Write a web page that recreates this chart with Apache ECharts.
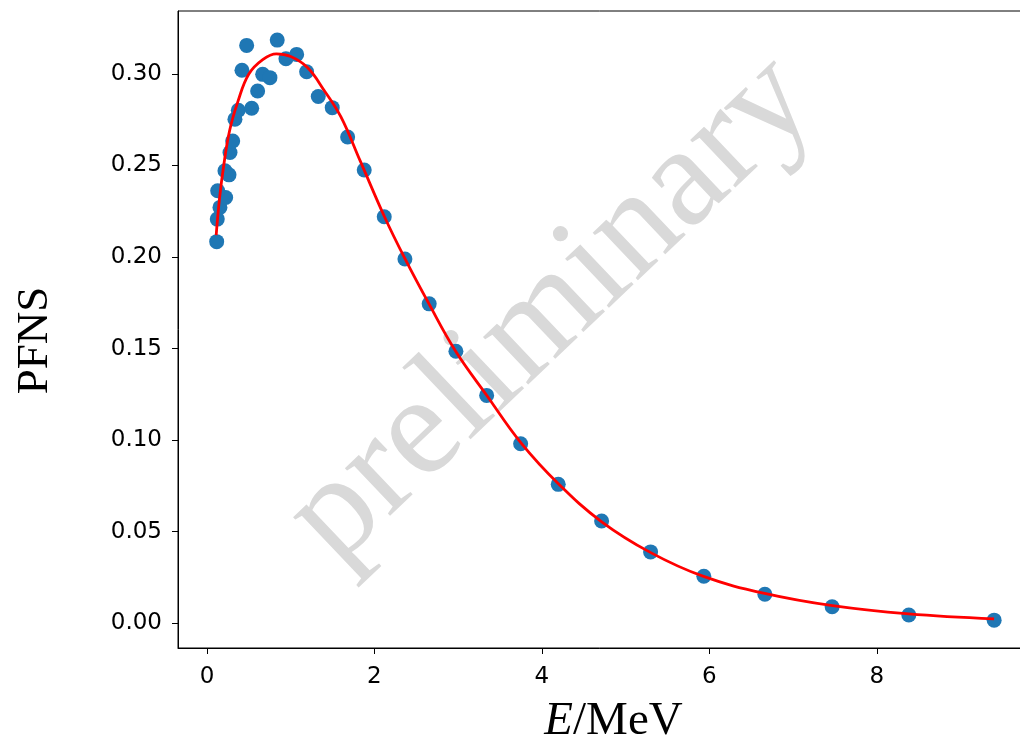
<!DOCTYPE html>
<html>
<head>
<meta charset="utf-8">
<script src="https://cdn.jsdelivr.net/npm/echarts@6/dist/echarts.min.js"></script>
<style>html,body{margin:0;padding:0;background:#fff;overflow:hidden;}#c{width:1020px;height:737px;}</style>
</head>
<body>
<div id="c"></div>
<script>
// measured PFNS points (E in MeV, PFNS)
const dataE = [0.116,0.123,0.155,0.223,0.128,0.215,0.263,0.275,0.307,0.334,0.374,0.534,0.605,0.418,0.665,0.752,0.474,0.839,0.943,1.071,1.190,1.329,1.496,1.680,1.878,2.117,2.364,2.654,2.973,3.340,3.746,4.195,4.713,5.298,5.934,6.663,7.466,8.382,9.401];
const dataP = [0.2084,0.2207,0.2271,0.2325,0.2362,0.2471,0.2449,0.2571,0.2634,0.2753,0.2802,0.2813,0.2907,0.3020,0.2998,0.2980,0.3156,0.3185,0.3083,0.3107,0.3012,0.2877,0.2816,0.2656,0.2475,0.2220,0.1989,0.1744,0.1485,0.1244,0.0980,0.0758,0.0558,0.0389,0.0256,0.0158,0.0089,0.0044,0.0016];
// fitted curve
const fitE = [0.11,0.15,0.20,0.27,0.37,0.50,0.67,0.83,1.00,1.20,1.40,1.60,1.83,2.12,2.36,2.65,2.97,3.34,3.75,4.20,4.71,5.30,5.93,6.66,7.47,8.38,9.40];
const fitP = [0.212,0.232,0.250,0.269,0.285,0.300,0.308,0.311,0.3095,0.3035,0.2910,0.2765,0.2525,0.222,0.1995,0.1745,0.1485,0.1245,0.0985,0.076,0.0555,0.0385,0.0255,0.0162,0.0095,0.0050,0.0023];
const xTicks = [0,2,4,6,8];
const yTicks = [0.00,0.05,0.10,0.15,0.20,0.25,0.30];

const chart = echarts.init(document.getElementById('c'));
const tickFont = {fontFamily:'DejaVu Sans', fontSize:23, color:'#000'};
chart.setOption({
  animation:false,
  backgroundColor:'#fff',
  grid:{left:178, right:-13, top:11, bottom:89, outerBoundsMode:'none', containLabel:false,
        show:true, borderColor:'#000', borderWidth:1},
  xAxis:{
    type:'value', min:-0.346, max:9.865,
    axisLine:{show:true, onZero:false, lineStyle:{color:'#000'}},
    axisTick:{show:true, length:6, inside:false, lineStyle:{color:'#000'}, customValues:xTicks},
    axisLabel:Object.assign({margin:18, customValues:xTicks, formatter:v=>String(v)}, tickFont),
    splitLine:{show:false},
    name:'{i|E}/MeV', nameLocation:'middle', nameGap:50,
    nameTextStyle:{fontFamily:'Liberation Serif', fontSize:47, color:'#000', padding:[0,0,0,16],
      rich:{i:{fontFamily:'Liberation Serif', fontStyle:'italic', fontSize:47, color:'#000'}}}
  },
  yAxis:{
    type:'value', min:-0.0136, max:0.3344,
    axisLine:{show:true, onZero:false, lineStyle:{color:'#000'}},
    axisTick:{show:true, length:6, lineStyle:{color:'#000'}, customValues:yTicks},
    axisLabel:Object.assign({margin:16, customValues:yTicks, formatter:v=>v.toFixed(2)}, tickFont),
    splitLine:{show:false},
    name:'PFNS', nameLocation:'middle', nameGap:120, nameRotate:90,
    nameTextStyle:{fontFamily:'Liberation Serif', fontSize:45, color:'#000', padding:[0,22,0,0]}
  },
  graphic:[{
    type:'text', x:552, y:310, rotation:0.76, z:0,
    style:{text:'preliminary', fontFamily:'Liberation Serif', fontSize:143,
      fill:'#d9d9d9', align:'center', verticalAlign:'middle',
      shadowBlur:5, shadowColor:'rgba(0,0,0,0.15)', shadowOffsetX:3, shadowOffsetY:3}
  }],
  series:[
    {type:'scatter', data:dataE.map((e,i)=>[e,dataP[i]]), symbolSize:15,
     itemStyle:{color:'#1f77b4', opacity:1}, z:3},
    {type:'line', data:fitE.map((e,i)=>[e,fitP[i]]), smooth:0.4, showSymbol:false,
     lineStyle:{color:'#ff0000', width:2.8}, z:4}
  ]
});
</script>
</body>
</html>
